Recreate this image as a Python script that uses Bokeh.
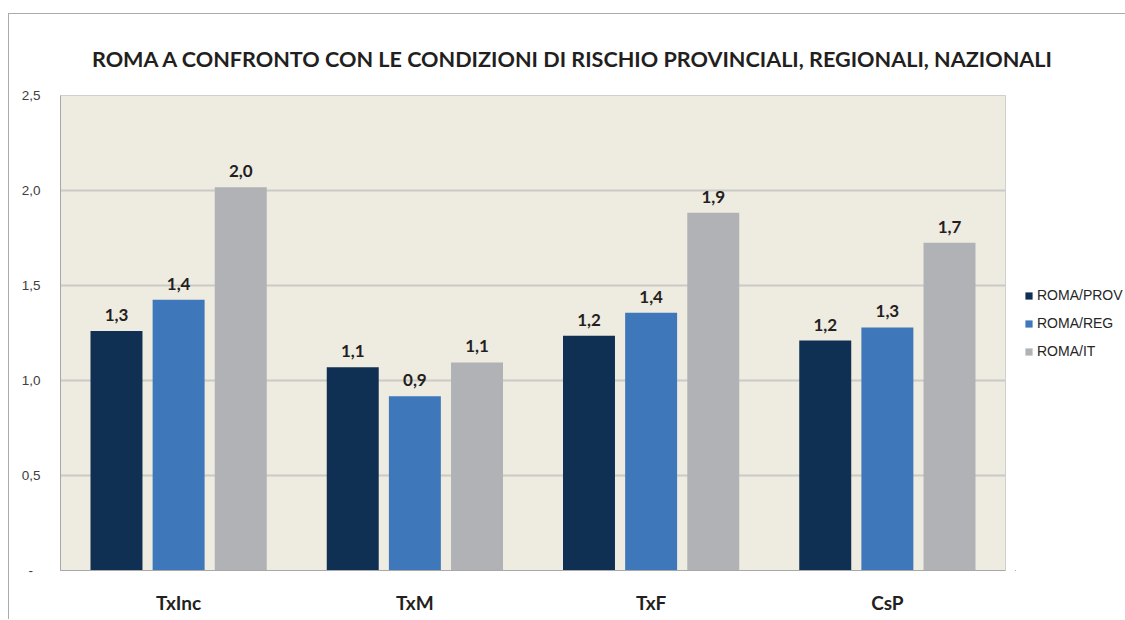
from bokeh.plotting import figure
from bokeh.layouts import row, column
from bokeh.models import ColumnDataSource, FactorRange, FixedTicker, Legend, LegendItem, Div
from bokeh.transform import dodge
from bokeh.core.properties import value
from bokeh.embed import file_html
from bokeh.resources import INLINE

categories = ["TxInc", "TxM", "TxF", "CsP"]
roma_prov = [1.26, 1.07, 1.235, 1.21]
roma_reg = [1.425, 0.917, 1.356, 1.279]
roma_it = [2.017, 1.095, 1.883, 1.725]
series_names = ["ROMA/PROV", "ROMA/REG", "ROMA/IT"]
y_ticks = [0, 0.5, 1.0, 1.5, 2.0, 2.5]
y_tick_labels = ["-\u00a0\u00a0", "0,5", "1,0", "1,5", "2,0", "2,5"]
title_text = "ROMA A CONFRONTO CON LE CONDIZIONI DI RISCHIO PROVINCIALI, REGIONALI, NAZIONALI"

colors = ["#0F3052", "#3F78BA", "#B1B2B6"]
HEAD = "Lato"
BODY = "Liberation Sans"


def fmt(v):
    return f"{v:.1f}".replace(".", ",")


src = ColumnDataSource(dict(
    cat=categories,
    prov=roma_prov, reg=roma_reg, it=roma_it,
    prov_l=[fmt(v) for v in roma_prov],
    reg_l=[fmt(v) for v in roma_reg],
    it_l=[fmt(v) for v in roma_it],
))

title_div = Div(
    text=('<div style="padding-left:83px;padding-top:35px;font:bold 21.6px/1 Lato,sans-serif;'
          'color:#231F20;white-space:nowrap;margin:0">' + title_text + '</div>'),
    width=1116, height=71, margin=0,
)

p = figure(
    x_range=FactorRange(*categories), y_range=(0, 2.5),
    width=1006, height=534,
    output_backend="svg", toolbar_location=None,
    min_border_left=51, min_border_right=10, min_border_top=10, min_border_bottom=49,
    background_fill_color="#EEEBE0", border_fill_color="white", margin=0,
)
p.outline_line_color = "#CFCFCB"

offsets = [-0.263, 0.0, 0.263]
fields = ["prov", "reg", "it"]
for f, off, c in zip(fields, offsets, colors):
    p.vbar(x=dodge("cat", off, range=p.x_range), top=f, width=0.22, bottom=0,
           source=src, fill_color=c, line_color=None)
    p.text(x=dodge("cat", off, range=p.x_range), y=f, text=f + "_l", source=src,
           text_align="center", text_baseline="bottom", y_offset=-10,
           text_font=value(HEAD), text_font_size="17px", text_font_style="bold",
           text_color="#231F20")

p.xgrid.grid_line_color = None
p.ygrid.grid_line_color = "#CACAC6"
p.ygrid.grid_line_width = 2
p.yaxis.ticker = FixedTicker(ticks=y_ticks)
p.yaxis.major_label_overrides = {t: l for t, l in zip(y_ticks, y_tick_labels)}
p.yaxis.major_label_text_font = BODY
p.yaxis.major_label_text_font_size = "13.5px"
p.yaxis.major_label_text_color = "#404040"
p.yaxis.major_tick_line_color = None
p.yaxis.minor_tick_line_color = None
p.yaxis.major_tick_out = 0
p.yaxis.major_label_standoff = 20
p.yaxis.axis_line_color = "#A8A8A8"

p.xaxis.major_label_text_font = HEAD
p.xaxis.major_label_text_font_size = "19px"
p.xaxis.major_label_text_font_style = "bold"
p.xaxis.major_label_text_color = "#231F20"
p.xaxis.major_tick_line_color = None
p.xaxis.major_tick_out = 0
p.xaxis.major_label_standoff = 20
p.xaxis.axis_line_color = "#A8A8A8"

# legend panel: a separate figure, so that the legend is not clipped by the plot frame.
# Its renderers use the same data, but its ranges keep them out of view.
pl = figure(width=110, height=534, output_backend="svg", toolbar_location=None,
            x_range=(100, 101), y_range=(100, 101),
            x_axis_location=None, y_axis_location=None,
            min_border=0, outline_line_color=None, margin=0,
            background_fill_color="white", border_fill_color="white")
pl.grid.visible = False
legend_renderers = [pl.vbar(x=f, top=f, width=0.1, source=src, fill_color=c, line_color=None)
                    for f, c in zip(fields, colors)]
legend = Legend(
    items=[LegendItem(label=n, renderers=[r]) for n, r in zip(series_names, legend_renderers)],
    location=(9, 211),
    glyph_width=9, glyph_height=9, label_height=16, spacing=12,
    label_standoff=4, padding=0, margin=0,
    border_line_color=None, background_fill_alpha=0,
    label_text_font=BODY, label_text_font_size="14px", label_text_color="#262626",
)
pl.add_layout(legend, "center")

layout = column(title_div, row(p, pl, spacing=0, margin=0), spacing=0,
                styles={"border-top": "1px solid #ABABAB",
                        "border-left": "1px solid #ABABAB",
                        "margin-top": "13px", "margin-left": "8px"})

open("out.html", "w").write(file_html(layout, INLINE))
